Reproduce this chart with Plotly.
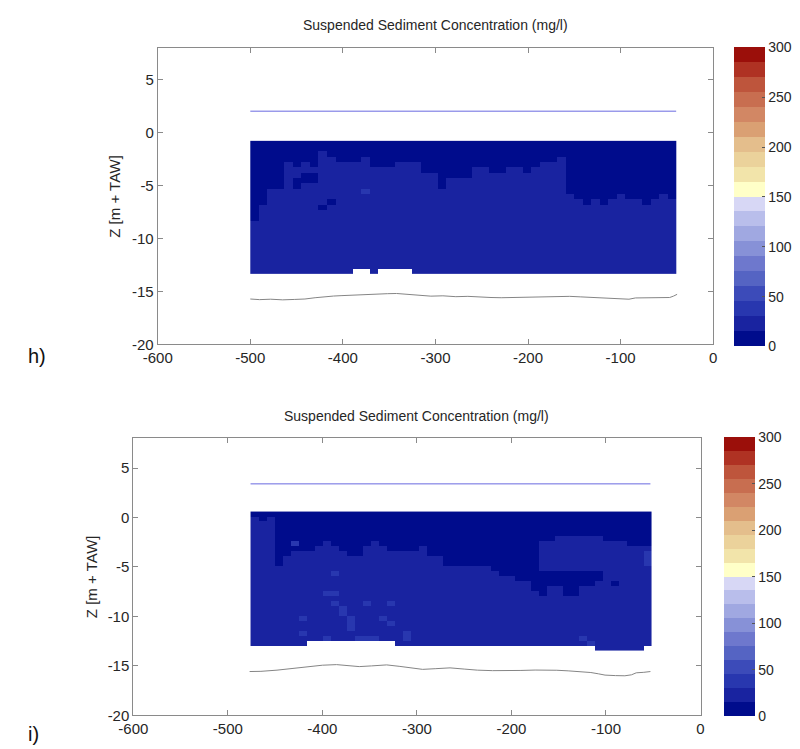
import plotly.graph_objects as go

# ---------------- colour scale (20 discrete bands, 0-300 mg/l) ----------------
CB_COLORS = [
    "#000c8c", "#1923a0", "#2837af", "#3c4bb9", "#5564c3",
    "#6e78cd", "#8791d7", "#a0a8e1", "#b9beeb", "#d7d7f5",
    "#ffffc8", "#f2e4aa", "#ebd29b", "#e4be8c", "#daa073",
    "#d28764", "#c86e50", "#be553c", "#af3223", "#9b0f0a",
]
CB_TICKS = [0, 50, 100, 150, 200, 250, 300]
X_TICKS = [-600, -500, -400, -300, -200, -100, 0]
X_TICKTEXT = ["-600", "-500", "-400", "-300", "-200", "-100", "0"]
Y_TICKS = [-20, -15, -10, -5, 0, 5]
Y_TICKTEXT = ["-20", "-15", "-10", "-5", "0", "5"]

# concentration (mg/l) represented by each shade seen in the sections
C_DARK = 8
C_LIGHT = 22
C_LIGHTER = 38

# ---------------- panel h ----------------
H_X_LEFT = -500
H_DX = 9.2
H_NCOL = 50
H_Z_TOP = -0.8
H_DZ = 0.5
H_NROW = 25
# number of dark (low concentration) cells from the top of each profile column
H_DARK_ROWS = [15, 12, 9, 9, 4, 5, 4, 5, 2, 3, 4, 4, 4, 3, 5, 5, 5, 4, 4, 4,
               6, 6, 9, 7, 7, 7, 5, 5, 6, 6, 5, 5, 6, 5, 4, 4, 3, 10, 11, 12,
               11, 12, 11, 10, 11, 11, 12, 11, 10, 11]
H_EXTRA_DARK = [(5, 7), (5, 8), (6, 6), (6, 7), (7, 6), (7, 7), (8, 12), (9, 11)]
H_LIGHTER = [(13, 9)]
H_MISSING = [(12, 24), (13, 24), (15, 24), (16, 24), (17, 24), (18, 24)]
H_SURF_X = [-500, -40]
H_SURF_Z = [2.0, 2.0]
H_BED_X = [-500, -490, -478, -465, -452, -441, -430, -420, -410, -401, -390, -380,
           -372, -362, -352, -342, -332, -318, -305, -292, -278, -265, -252, -240,
           -229, -216, -204, -190, -178, -166, -155, -143, -130, -118, -106, -97,
           -91, -84, -76, -66, -57, -47, -43, -39]
H_BED_Z = [-15.72, -15.78, -15.74, -15.8, -15.76, -15.72, -15.6, -15.5, -15.44, -15.4,
           -15.35, -15.3, -15.26, -15.28, -15.22, -15.2, -15.28, -15.4, -15.45, -15.42,
           -15.5, -15.47, -15.55, -15.58, -15.6, -15.57, -15.56, -15.52, -15.5, -15.46,
           -15.47, -15.52, -15.58, -15.62, -15.66, -15.72, -15.74, -15.62, -15.62, -15.6,
           -15.62, -15.58, -15.45, -15.28]

# ---------------- panel i ----------------
I_X_LEFT = -476
I_DX = 8.48
I_NCOL = 50
I_Z_TOP = 0.6
I_DZ = 0.5
I_NROW = 28
I_MAIN_ROWS = 27
I_DARK_ROWS = [1, 2, 1, 11, 9, 8, 8, 8, 7, 6, 7, 8, 9, 9, 7, 6, 7, 8, 8, 8,
               8, 7, 9, 9, 11, 11, 11, 11, 11, 11, 12, 13, 13, 14, 14, 16, 6, 6, 5, 5,
               5, 5, 5, 5, 6, 6, 6, 7, 7, 7]
# second (deeper) dark band: column -> (first row, end row)
I_DARK_BAND2 = {36: (12, 17), 37: (12, 15), 38: (12, 15), 39: (12, 17), 40: (12, 17),
                41: (12, 15), 42: (12, 15), 43: (12, 14), 45: (14, 15)}
I_LIGHTER = [(5, 6), (10, 12), (9, 16), (10, 16), (10, 18), (11, 19), (11, 20), (14, 18),
             (17, 18), (12, 21), (12, 22), (12, 23), (6, 21), (16, 21), (17, 22), (6, 24),
             (9, 25), (13, 25), (14, 25), (15, 25), (19, 24), (19, 25), (41, 25), (42, 26),
             (49, 8), (49, 9), (49, 10)]
I_MISSING_COLS = list(range(7, 18))       # notch in bottom row of main block
I_EXTENDED_COLS = list(range(43, 49))     # columns reaching one cell deeper
I_SURF_X = [-476, -53]
I_SURF_Z = [3.4, 3.4]
I_BED_X = [-477, -465, -448, -434, -419, -410, -400, -385, -373, -361, -348, -332, -318,
           -305, -294, -280, -265, -250, -236, -220, -205, -190, -175, -164, -152, -140,
           -128, -116, -108, -101, -90, -80, -73, -68, -60, -53]
I_BED_Z = [-15.57, -15.55, -15.43, -15.3, -15.17, -15.05, -14.93, -14.87, -14.98, -15.07,
           -15.0, -14.9, -15.05, -15.2, -15.35, -15.28, -15.2, -15.32, -15.43, -15.48,
           -15.5, -15.46, -15.42, -15.4, -15.44, -15.5, -15.56, -15.67, -15.8, -15.93,
           -15.98, -16.0, -15.9, -15.7, -15.65, -15.57]


def build_h():
    z = [[C_LIGHT] * H_NCOL for _ in range(H_NROW)]
    for c, n in enumerate(H_DARK_ROWS):
        for r in range(n):
            z[r][c] = C_DARK
    for c, r in H_EXTRA_DARK:
        z[r][c] = C_DARK
    for c, r in H_LIGHTER:
        z[r][c] = C_LIGHTER
    for c, r in H_MISSING:
        z[r][c] = None
    return z


def build_i():
    z = [[C_LIGHT] * I_NCOL for _ in range(I_NROW)]
    for c, n in enumerate(I_DARK_ROWS):
        for r in range(n):
            z[r][c] = C_DARK
    for c, (a, b) in I_DARK_BAND2.items():
        for r in range(a, b):
            z[r][c] = C_DARK
    for c, r in I_LIGHTER:
        z[r][c] = C_LIGHTER
    for c in I_MISSING_COLS:
        z[I_MAIN_ROWS - 1][c] = None
    for c in range(I_NCOL):
        if c not in I_EXTENDED_COLS:
            z[I_MAIN_ROWS][c] = None
    return z


colorscale = []
nb = len(CB_COLORS)
for i, col in enumerate(CB_COLORS):
    colorscale.append([i / nb, col])
    colorscale.append([(i + 1) / nb, col])

W, H = 800, 749
FONT = "Liberation Sans, Arial, sans-serif"
TXT = "#262626"
AX = "#8a8a8a"

# pixel boxes (left, right, top, bottom)
PH = (138, 707, 40, 340)
PI = (113, 694, 435, 715)


def dom_x(b):
    return [b[0] / W, b[1] / W]


def dom_y(b):
    return [1 - b[3] / H, 1 - b[2] / H]


def colorbar(x_left, top, bottom):
    return dict(
        x=x_left / W, xanchor="left", y=1 - (top + bottom) / 2 / H, yanchor="middle",
        len=(bottom - top) / H, lenmode="fraction", thickness=31, thicknessmode="pixels",
        outlinewidth=0, tickvals=CB_TICKS, ticks="inside", ticklen=3, tickcolor="#555",
        tickfont=dict(family=FONT, size=14, color=TXT), xpad=0, ypad=0,
    )


fig = go.Figure()

fig.add_trace(go.Heatmap(
    z=build_h(), x0=H_X_LEFT + H_DX / 2, dx=H_DX, y0=H_Z_TOP - H_DZ / 2, dy=-H_DZ,
    colorscale=colorscale, zmin=0, zmax=300, xaxis="x", yaxis="y",
    colorbar=colorbar(728, 40, 342), hoverinfo="skip",
))
fig.add_trace(go.Scatter(x=H_SURF_X, y=H_SURF_Z, mode="lines", xaxis="x", yaxis="y",
                         line=dict(color="#6a6ae0", width=1), showlegend=False))
fig.add_trace(go.Scatter(x=H_BED_X, y=H_BED_Z, mode="lines", xaxis="x", yaxis="y",
                         line=dict(color="#858585", width=1), showlegend=False))

fig.add_trace(go.Heatmap(
    z=build_i(), x0=I_X_LEFT + I_DX / 2, dx=I_DX, y0=I_Z_TOP - I_DZ / 2, dy=-I_DZ,
    colorscale=colorscale, zmin=0, zmax=300, xaxis="x2", yaxis="y2",
    colorbar=colorbar(718, 434, 716), hoverinfo="skip",
))
fig.add_trace(go.Scatter(x=I_SURF_X, y=I_SURF_Z, mode="lines", xaxis="x2", yaxis="y2",
                         line=dict(color="#6a6ae0", width=1), showlegend=False))
fig.add_trace(go.Scatter(x=I_BED_X, y=I_BED_Z, mode="lines", xaxis="x2", yaxis="y2",
                         line=dict(color="#858585", width=1), showlegend=False))


def xax(box, anchor):
    return dict(domain=dom_x(box), anchor=anchor, range=[-600, 0], tickvals=X_TICKS,
                ticktext=X_TICKTEXT,
                showgrid=False, zeroline=False, showline=True, mirror="ticks",
                linecolor=AX, linewidth=1, ticks="inside", ticklen=5, tickcolor=AX,
                tickfont=dict(family=FONT, size=15, color=TXT))


def yax(box, anchor):
    return dict(domain=dom_y(box), anchor=anchor, range=[-20, 8], tickvals=Y_TICKS,
                ticktext=Y_TICKTEXT,
                showgrid=False, zeroline=False, showline=True, mirror="ticks",
                linecolor=AX, linewidth=1, ticks="inside", ticklen=5, tickcolor=AX,
                tickfont=dict(family=FONT, size=15, color=TXT))


ann = []
for box, label, ylab_x, tag_y in [(PH, "h)", 94, 352), (PI, "i)", 71, 734)]:
    ann.append(dict(text="Suspended Sediment Concentration (mg/l)", xref="paper", yref="paper",
                    x=(box[0] + box[1]) / 2 / W, y=1 - (box[2] - 23) / H, xanchor="center",
                    yanchor="middle", showarrow=False,
                    font=dict(family=FONT, size=14, color=TXT)))
    ann.append(dict(text="Z [m + TAW]", xref="paper", yref="paper", x=ylab_x / W,
                    y=1 - (box[2] + box[3]) / 2 / H, xanchor="center", yanchor="middle",
                    textangle=-90, showarrow=False,
                    font=dict(family=FONT, size=15, color=TXT)))
    ann.append(dict(text=label, xref="paper", yref="paper", x=3 / W, y=1 - tag_y / H,
                    xanchor="left", yanchor="middle", showarrow=False,
                    font=dict(family=FONT, size=20, color="#111")))

fig.update_layout(
    width=W, height=H, autosize=False, margin=dict(l=0, r=0, t=0, b=0),
    paper_bgcolor="white", plot_bgcolor="white", showlegend=False,
    xaxis=xax(PH, "y"), yaxis=yax(PH, "x"),
    xaxis2=xax(PI, "y2"), yaxis2=yax(PI, "x2"),
    annotations=ann,
)

fig.write_html("out.html")
